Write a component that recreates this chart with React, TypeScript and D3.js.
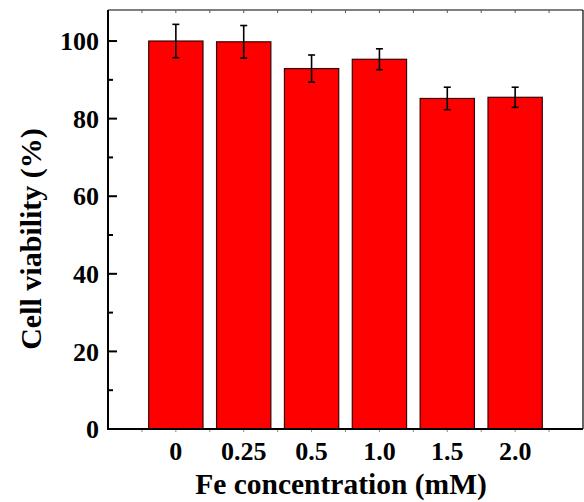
import React from "react";
import * as d3 from "d3";

const categories = ["0", "0.25", "0.5", "1.0", "1.5", "2.0"];
const viability = [100.0, 99.8, 92.9, 95.3, 85.2, 85.5];
const errors = [4.3, 4.2, 3.5, 2.7, 2.9, 2.6];
const yTicks = [0, 20, 40, 60, 80, 100];
const yMinorTicks = [10, 30, 50, 70, 90];

const W = 584, H = 502;
const left = 108, right = 583, top = 10, bottom = 429;
const FONT = "'Liberation Serif', 'Times New Roman', serif";

export default function App() {
  const x = d3.scaleLinear().domain([-1, 6]).range([left, right]);
  const y = d3.scaleLinear().domain([0, 108]).range([bottom, top]);
  const barW = x(0.8) - x(0);
  const halfTicks = d3.range(-0.5, 6, 0.5);

  return (
    <svg width={W} height={H} style={{ position: "absolute", left: 0, top: 0, background: "#fff" }}>
      {viability.map((v, i) => (
        <rect key={"b" + i} x={x(i) - barW / 2} y={y(v)} width={barW} height={y(0) - y(v)}
          fill="#ff0000" stroke="#3a0000" strokeWidth={1.2} />
      ))}
      {viability.map((v, i) => (
        <g key={"e" + i} stroke="#000" strokeWidth={1.6}>
          <line x1={x(i)} x2={x(i)} y1={y(v + errors[i])} y2={y(v - errors[i])} />
          <line x1={x(i) - 3.5} x2={x(i) + 3.5} y1={y(v + errors[i])} y2={y(v + errors[i])} />
          <line x1={x(i) - 3.5} x2={x(i) + 3.5} y1={y(v - errors[i])} y2={y(v - errors[i])} />
        </g>
      ))}
      <line x1={left} x2={right} y1={top} y2={top} stroke="#000" strokeWidth={1.2} />
      <line x1={right} x2={right} y1={top} y2={bottom} stroke="#000" strokeWidth={1.2} />
      {halfTicks.map((t, i) => (
        <line key={"tt" + i} x1={x(t)} x2={x(t)} y1={top} y2={top + 3} stroke="#555" strokeWidth={1} />
      ))}
      {halfTicks.map((t, i) => (
        <line key={"bt" + i} x1={x(t)} x2={x(t)} y1={bottom} y2={bottom + 3} stroke="#888" strokeWidth={1} />
      ))}
      <line x1={left} x2={left} y1={top} y2={bottom + 1} stroke="#000" strokeWidth={2} />
      <line x1={left - 1} x2={right} y1={bottom} y2={bottom} stroke="#000" strokeWidth={2} />
      {yTicks.map((t) => (
        <g key={"yt" + t}>
          <line x1={left} x2={left + 9} y1={y(t)} y2={y(t)} stroke="#000" strokeWidth={2} />
          <text x={99} y={y(t)} dy="0.35em" textAnchor="end" fontFamily={FONT} fontWeight="bold" fontSize={26}>{t}</text>
        </g>
      ))}
      {yMinorTicks.map((t) => (
        <line key={"ym" + t} x1={left} x2={left + 5} y1={y(t)} y2={y(t)} stroke="#000" strokeWidth={2} />
      ))}
      {categories.map((c, i) => (
        <text key={"xl" + i} x={x(i)} y={460} textAnchor="middle" fontFamily={FONT} fontWeight="bold" fontSize={26}>{c}</text>
      ))}
      <text x={341} y={494} textAnchor="middle" fontFamily={FONT} fontWeight="bold" fontSize={29.5}>Fe concentration (mM)</text>
      <text transform={`translate(41,239) rotate(-90)`} textAnchor="middle" fontFamily={FONT} fontWeight="bold" fontSize={30}>Cell viability (%)</text>
    </svg>
  );
}
